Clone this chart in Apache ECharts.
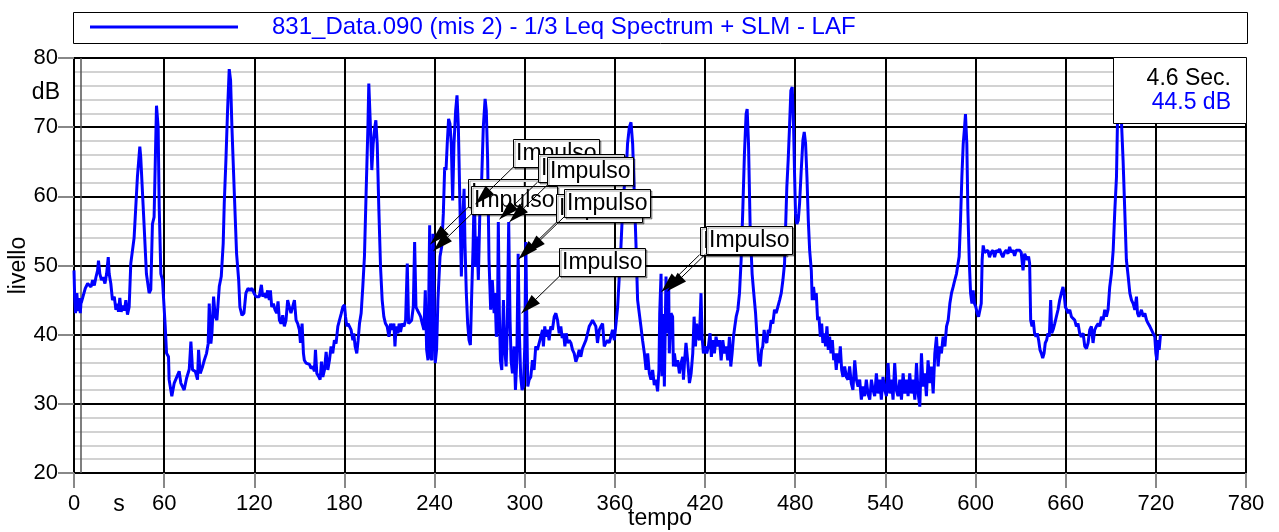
<!DOCTYPE html>
<html>
<head>
<meta charset="utf-8">
<script src="https://cdn.jsdelivr.net/npm/echarts@6.0.0/dist/echarts.min.js"></script>
<style>
html,body{margin:0;padding:0;background:#fff;}
#c{width:1279px;height:532px;}
</style>
</head>
<body>
<div id="c"></div>
<script>
// ---- data: [tempo (s), livello (dB)] ----
const seg1 = [[0,49.3],[0.5,45],[1,43.1],[1.9,46],[2.7,43.4],[3.6,45.3],[4.2,43.1],[4.6,44.5],[5.1,44.8],[6.2,45],[7.5,46.7],[8.3,46.5],[9.1,47.4],[10.2,47.6],[11.3,46.9],[12.4,47.9],[13.5,47.1],[14.6,48.3],[15.7,49.3],[16.3,50.7],[17.2,48.8],[18.3,47.9],[19.4,48.3],[20.6,47.4],[21.7,48.8],[22.8,51.2],[23.4,48.8],[24.5,47.4],[25.6,45],[26.8,45.5],[27.9,43.6],[29,44.5],[29.6,43.3],[30.5,45.3],[31.4,43.3],[32.3,44.2],[33.6,43.5],[34.5,45],[35.6,42.9],[36.7,44],[37.8,50.3],[40,54],[42.2,62.8],[43.8,67.2],[44.4,65.7],[46.7,55.6],[48.2,48.8],[50,46],[51.1,46.5],[52.2,56],[53.3,57],[54.9,73.1],[56,70],[56.7,58.5],[57.8,48.8],[58.9,47.9]];
const seg2 = [[60.7,41.2],[61.6,37.3],[62.9,36.8],[63.3,33.5],[65.1,31.1],[66.7,33],[67.8,33.2],[70,34.7],[71.1,33],[72.2,32.8],[73.3,32],[74.9,33.7],[76.7,35],[77.8,39],[78.9,34.9],[80.7,34.7],[82.2,33.5],[82.9,37.8],[84,34.4],[85.6,35.4],[86.7,36.3],[88.2,37.3],[89.3,38.7],[90,44.5],[91.1,38.7],[91.8,40.2],[92.9,45.5],[94,42.6],[95.1,42.1],[96.7,47],[98,48.4],[99.3,53.2],[100,59],[101.1,65.2],[102.2,72.4],[103.3,78.4],[104.2,76.8],[105.1,70],[106.7,60.4],[108.2,51.7],[109.6,47.9],[110.4,44],[111.8,42.8],[113.1,43.1],[114.4,46],[115.8,46.7],[117.1,46.4],[118.4,46.7],[119.8,46],[121.1,45.5],[122.2,45.7],[123.3,45.5],[124.7,47.2],[125.6,45.5],[126.7,46],[127.8,45.3],[128.9,46.4],[130,45],[130.7,46.4],[131.6,44],[132.7,44.5],[133.8,43.6],[134.9,43.1],[135.8,44.8],[136.7,42.1],[137.8,41.6],[138.9,42.8],[140,41.2],[141.1,42.1],[142.2,45],[143.3,44],[144.4,43.1],[145.6,43.1],[146.7,45],[147.8,42.1],[148.9,41.6],[150,40.7],[150.7,38.8],[151.8,41.6],[152.7,37.3],[153.3,36.3],[154.4,35.9],[155.6,36.1],[156.7,35.7],[157.8,35.1],[158.9,35.4],[160,34.7],[160.7,37.8],[161.6,34.4],[163,33.9],[163.8,33.5],[164.7,36.1],[165.6,33.9],[166.7,34.9],[167.8,37.5],[168.9,34.9],[170,36.3],[171.1,38.3],[172.2,37.3],[173.3,39.2],[174.4,38.7],[175.6,41.2],[176.7,42.1],[177.8,43],[178.9,44],[180,44.3],[180.7,42.6],[181.6,41.2],[182.4,41.6],[183.3,41.2],[184.4,40.7],[185.6,39.2],[186.2,40.2],[187.1,38.3],[188.2,37.3],[189.1,39.2],[190,41.6],[191.1,43.1],[192.2,46.9],[193.3,51.3],[194.4,60.4],[195.6,70],[196.2,76.3]];
const seg3 = [[197.3,70],[198.2,63.8],[199.1,67.6],[200.2,70],[200.9,71],[201.8,67.6],[202.9,58],[204,49.8],[205.1,45],[206.2,42.6],[207.3,41.6],[208.4,41.2],[209.6,39.7],[210.7,41.6],[211.8,40.7],[212.9,41.6],[213.6,38.3],[214.4,41.2],[215.6,40.2],[216.4,41.6],[217.3,40.4],[218.4,41.6],[219.6,41.2],[220.7,42.1],[221.8,50.3],[222.7,41.6],[223.6,41.4],[224.7,42.1],[225.8,44],[226.7,53.4],[227.6,44],[228.4,43.6],[229.6,43.1],[230.7,42.6],[231.8,41.6],[232.9,40.7],[233.8,46.4],[234.7,37.8],[235.6,36.3],[236.7,55.8],[237.3,36.8],[238.2,36.3],[238.9,54.6],[239.6,45.9],[240.4,35.9],[241.3,37.8],[242.2,45],[243.6,51.3],[244.7,52.7],[245.8,57.5],[246.7,64.2],[247.6,63.8],[248.4,67.6],[249.3,71.2],[250.2,70.5],[251.1,67.6],[252,59.4],[252.9,67.6],[254,72.4],[254.9,74.6],[255.8,70],[256.7,60.4],[257.8,48.4],[258.7,56.5],[259.6,61.1],[260.2,53.2],[261.1,46],[262,41.6],[262.9,39.2],[263.8,38.5],[264.7,46],[265.6,52.7],[266.4,61.3],[267.3,49.8],[268.2,54.2],[269.1,47.9],[270.2,58.7],[271.3,62.3],[272.4,70],[273.6,74.1],[274.4,72.4],[275.3,65.2],[276.2,50.8],[277.3,43.6],[278.4,47.9],[279.6,43.1],[280.2,46],[281.1,39.7],[281.8,41.2],[282.4,56.3],[283.1,43.1],[283.8,36.3],[284.7,34.9],[285.8,45],[286.7,37.8],[287.6,35.4],[288.4,41.6],[289.3,56.3],[290.2,42.1],[290.9,36.3],[291.8,34.4],[292.9,38.3],[293.8,32],[294.7,36.3],[295.6,51.7],[296.4,40.2],[297.3,33.9],[298.2,32],[299.1,32.5],[300,38.3],[300.7,53.4],[301.3,43.1],[302,32.5],[302.9,33.5],[304,33.9],[305.1,36.3],[306.2,34.9],[307.3,38.3],[308.4,37.8],[309.6,38.8],[310.7,39.7],[311.8,40.7],[312.4,38.3],[313.3,41.2],[314.2,39.7],[315.1,40.7],[316.2,39.2],[317.3,41.2],[318.4,40.7],[319.6,42.6],[320.7,43.1],[321.8,42.1],[322.9,40.2],[324,41.2],[324.9,39.5],[325.8,40.2],[326.7,38.3],[327.6,40.2],[328.4,38.8],[329.6,39.2],[330.7,38.8],[331.8,37.8],[332.9,37.3],[334,36.1],[335.1,36.8],[336.2,37.8],[337.3,36.8],[338.4,38],[339.6,37.8],[340.7,39.2],[341.8,40.2],[342.9,41.2],[344,41.6],[345.1,42.1],[346.2,42.3],[347.3,41.2],[348.4,38.8],[349.6,40.7],[350.7,41.2],[351.8,41.6],[352.9,38.3],[354,38.8],[355.1,39.2],[356.2,38.8],[357.3,39.7],[358.4,40.7],[359.6,39.2],[360.7,41.6],[361.8,44],[362.9,48.4],[364,52.7],[365.1,58],[366.2,61.3],[367.3,62.7],[368.4,67.6],[369.6,70],[370.7,70.7],[371.8,67.6],[372.9,60.4],[374,53.2],[375.1,45],[376.2,43.1],[377.3,41.2],[378.4,39.2],[379.6,37.3],[380.7,34.9],[381.8,37.3],[382.9,34.4],[384,33.5],[385.1,34.9],[386.2,32.7],[387.3,33.5],[388.4,31.8]];
const seg4 = [[389.3,34.9],[389.8,43],[390.7,48.8],[391.3,34],[392.2,43],[392.9,32.5],[394,48.4],[394.9,40.2],[395.8,46.9],[396.2,37.3],[397.3,43.1],[398.4,42.6],[398.9,35.4],[399.6,37.3],[400.7,35.4],[401.8,36.3],[402.9,34.4],[404,35.9],[405.1,36.8],[405.6,33.5],[406.4,36.3],[407.3,38.8],[408.4,36.3],[409.6,33],[410.7,34.4],[411.8,37.3],[412.7,42.6],[413.6,38.3],[414.4,41.6],[415.3,39.7],[416.2,39.2],[417.3,46],[418,39.7],[418.9,37.3],[420,38.3],[421.1,37.3],[422.2,38.3],[423.3,40.2],[424.2,36.8],[425.1,39.2],[426.2,37.3],[427.3,39.7],[428.4,38.3],[429.6,39.2],[430.7,36.3],[431.8,39.2],[432.9,37.3],[434,38.3],[435.1,36.3],[436.2,39.7],[437.1,35.4],[438,37.3],[438.9,39.7],[439.8,41.2],[440.7,42.6],[441.8,43.6],[442.9,46],[444,50.8],[445.1,58],[446.2,66.2],[447.3,71.9],[448,72.6],[448.9,67.6],[450,55.6],[451.3,48.8],[452.4,46],[453.6,43.1],[454.7,39.2],[455.6,36.3],[456.7,35.4],[457.6,37.8],[458.4,38.3],[459.3,40.7],[460.2,39.2],[461.1,38.8],[462,40.7],[462.9,40.2],[464,42.1],[465.1,41.6],[466.2,43.6],[467.3,43.1],[468.4,44],[469.6,45],[470.7,46],[471.8,47.9],[472.9,50.3],[473.6,55.6],[474.4,61.3],[475.3,65.2],[476.2,70],[477.1,75.3],[478,75.8],[478.9,70],[479.6,62.8],[480.2,57.5],[481.1,56],[482,56.5],[482.9,59],[484,63.8],[485.1,68.1],[486,69.3],[486.9,67.6],[487.8,62.8],[488.7,56.5],[489.6,52.2],[490.7,49.3],[491.3,45],[492.2,46.9],[493.1,45],[494,46],[494.9,42.1],[495.8,42.6],[496.7,39.7],[497.6,41.6],[498.4,38.8],[499.3,40.2],[500.2,38.3],[501.1,41.2],[502,37.8],[502.9,39.7],[503.8,37.3],[504.7,39.2],[505.6,36.3],[506.4,37.3],[507.3,34.9],[508.2,37.3],[509.1,35.9],[510,38.3],[510.9,34.9],[511.8,33.9],[512.9,35.4],[514,33.9],[515.1,33.5],[516.2,35.4],[517.3,33],[518.4,32],[519.6,36.3],[520.7,33.5],[521.8,32.5],[522.9,33.5],[524,30.6],[525.1,32.5],[526.2,31.1],[527.3,33.5],[528.4,31.5],[529.6,30.6],[530.7,33.5],[531.8,32],[532.9,31.1],[534,34.4],[535.1,31.5],[536.2,33.5],[537.3,30.6],[538.4,33.9],[539.6,32],[540.7,31.1],[541.8,35.9],[542.9,31.5],[544,33.5],[545.1,30.6],[546.2,35.9],[547.3,32],[548.4,31.1],[549.6,33.5],[550.7,30.6],[551.8,34.4],[552.9,31.5],[554,33.5],[555.1,31.1],[556.2,34.4],[557.3,31.5],[558.4,33.5],[559.6,30.6],[560.7,35.9],[561.8,31.5],[562.9,29.6],[564,37.3],[565.1,32.5],[566.2,34.4],[567.3,31.1],[568.4,36.3],[569.6,33],[570.7,35.4],[571.8,31.5],[572.9,37.3],[574,39.7],[575.1,35.4],[576.2,38.3],[577.3,37.3],[578.4,39.7],[579.6,38.3],[580.7,41.2],[581.8,42.1],[582.9,44.5],[584,46],[585.1,46.9],[586.2,47.9],[587.3,48.8],[588.2,48.8],[589.1,51.3]];
const seg5 = [[590,56.5],[590.9,62.8],[591.8,67.6],[592.7,70],[593.3,71.9],[594.2,67.6],[594.9,58],[595.8,50.8],[596.7,46],[597.6,44.5],[598.4,46.4],[599.3,44.5],[600.2,44],[601.1,43.1],[602,42.6],[602.9,42.6],[603.8,44.5],[604.4,50.8],[605.1,52.9],[606,51.9],[607.1,51.7],[608.2,52.2],[609.3,51.2],[610.4,51.9],[611.6,52.2],[612.7,51.2],[613.8,52.2],[614.9,51.9],[616,52.4],[617.1,51.7],[618.2,51.2],[619.3,51.9],[620.4,52.2],[621.6,51.7],[622.7,52.7],[623.8,51.9],[624.9,52.2],[626,51.4],[627.1,52.2],[628.2,52.4],[629.3,52.2],[630.4,51.9],[631.6,49.3],[632.7,51.7],[633.6,51.9],[634.4,50.8],[635.3,51.3],[636,50.3],[636.7,42.1],[637.6,41.2],[638.4,42.1],[639.3,40.2],[640.2,39.7],[641.1,40.2],[642,39.2],[642.9,37.8],[643.8,37.3],[644.7,36.6],[645.6,37.3],[646.4,38.8],[647.3,39.2],[648.2,40.2],[649.1,39.7],[650,45],[650.7,40.2],[651.6,40.7],[652.7,41.6],[653.8,42.6],[654.9,43.6],[656,45],[657.1,46],[658.2,46.9],[658.9,46],[659.8,44],[660.7,43.6],[661.6,43.1],[662.7,43.6],[663.8,42.6],[664.9,42.8],[666,42.1],[667.1,41.2],[668.2,41.6],[669.3,40.2],[670.4,39.7],[671.6,40.2],[672.7,38.3],[673.8,38],[674.9,38.8],[676,40.7],[677.1,41.2],[678.2,38.8],[679.3,40.7],[680.4,41.2],[681.6,41.6],[682.7,41.2],[683.8,42.6],[684.9,42.1],[686,43.6],[687.1,42.6],[688.2,43.6],[689.3,46.9],[690.4,48.8],[691.6,52.2],[692.7,58],[693.8,62.8],[694.4,70],[695.3,77],[696.2,76.5],[697.1,70.9],[698.2,65.2],[699.3,58],[700.4,50.8],[701.6,48.4],[702.7,46],[703.8,45],[704.9,44.5],[706,43.6],[707.1,45.5],[707.8,43.1],[708.7,42.6],[709.6,43.1],[710.4,43.6],[711.6,42.6],[712.7,43.1],[713.8,42.1],[714.9,41.6],[716,41.2],[717.1,40.7],[718.2,40.2],[719.3,39.7],[720,37.3],[720.7,36.3],[721.6,39.2],[722.2,37.8],[723.1,40]];

// impulse annotations: arrow tip positions [tempo, livello]
const impulsoT  = [237.2, 239.2, 267.2, 283.2, 289.8, 295.8, 301.0, 297.8, 391.0, 395.0];
const impulsoDB = [53.1, 52.1, 58.9, 56.7, 56.3, 50.9, 51.7, 43.1, 46.2, 46.3];
const impulsoLabel = 'Impulso';

// cursor readout
const cursorT = 4.6;
const cursorDB = 44.5;

// axis ticks
const xMin = 0, xMax = 780, xStep = 60;
const yMin = 20, yMax = 80, yStep = 10;

const seriesName = '831_Data.090 (mis 2) - 1/3 Leq Spectrum + SLM - LAF';
const FONT = '"Liberation Sans", Arial, Helvetica, sans-serif';
const BLUE = '#0000ff';

const data = seg1.concat(seg2, seg3, seg4, seg5);

const chart = echarts.init(document.getElementById('c'), null, {renderer: 'canvas'});

const option = {
  animation: false,
  backgroundColor: '#fff',
  grid: {left: 74, right: 33, top: 58, bottom: 59, show: false, containLabel: false, outerBoundsMode: 'none'},
  legend: {
    show: true,
    left: 90, top: 15, padding: 0,
    icon: 'rect', itemWidth: 148, itemHeight: 3,
    textStyle: {fontSize: 24, color: BLUE, fontFamily: FONT, padding: [0, 0, 0, 29]},
    data: [seriesName],
    selectedMode: false
  },
  xAxis: {
    type: 'value', min: xMin, max: xMax, interval: xStep,
    name: 'tempo', nameLocation: 'middle', nameGap: 34, nameMoveOverlap: false,
    nameTextStyle: {fontSize: 23, color: '#000', fontFamily: FONT},
    axisLine: {show: true, onZero: false, lineStyle: {color: '#000', width: 2}},
    axisTick: {show: true, length: 15, lineStyle: {color: '#888', width: 2}},
    axisLabel: {fontSize: 22, color: '#000', margin: 20, fontFamily: FONT},
    splitLine: {show: true, lineStyle: {color: '#000', width: 2}}
  },
  yAxis: {
    type: 'value', min: yMin, max: yMax, interval: yStep,
    name: 'livello', nameLocation: 'middle', nameRotate: 90, nameGap: 44, nameMoveOverlap: false,
    nameTextStyle: {fontSize: 23, color: '#000', fontFamily: FONT},
    axisLine: {show: true, lineStyle: {color: '#000', width: 2}},
    axisTick: {show: true, length: 16, lineStyle: {color: '#888', width: 2}},
    axisLabel: {fontSize: 22, color: '#000', margin: 16, fontFamily: FONT},
    splitLine: {show: true, lineStyle: {color: '#000', width: 2}},
    minorTick: {show: false, splitNumber: 5},
    minorSplitLine: {show: true, lineStyle: {color: '#d2d2d2', width: 2}}
  },
  series: [{
    type: 'line', name: seriesName, data: data,
    showSymbol: false, symbol: 'none',
    lineStyle: {color: BLUE, width: 3},
    itemStyle: {color: BLUE},
    z: 3,
    markLine: {
      silent: true, symbol: 'none', label: {show: false},
      lineStyle: {color: '#555', width: 1.5, type: 'solid'},
      data: [{xAxis: cursorT}],
      z: 2
    }
  }]
};
chart.setOption(option);

function buildGraphics() {
  const els = [];
  // legend frame
  els.push({type: 'rect', z: 1, shape: {x: 73.5, y: 12.5, width: 1174, height: 31},
    style: {fill: 'none', stroke: '#000', lineWidth: 1}});
  // unit labels
  const p30 = chart.convertToPixel({gridIndex: 0}, [30, yMin]);
  els.push({type: 'text', z: 5, x: p30[0], y: p30[1] + 20,
    style: {text: 's', fontSize: 23, fontFamily: FONT, fill: '#000', align: 'center', verticalAlign: 'top'}});
  const p75 = chart.convertToPixel({gridIndex: 0}, [xMin, 75]);
  els.push({type: 'text', z: 5, x: p75[0] - 14, y: p75[1],
    style: {text: 'dB', fontSize: 23, fontFamily: FONT, fill: '#000', align: 'right', verticalAlign: 'middle'}});
  // impulse annotations
  const BW = 86, BH = 28, DX = 38, DY = -37, HL = 20, HW = 6;
  for (let i = 0; i < impulsoT.length; i++) {
    const tip = chart.convertToPixel({gridIndex: 0}, [impulsoT[i], impulsoDB[i]]);
    const bx = tip[0] + DX, by = tip[1] + DY;
    const vx = tip[0] - bx, vy = tip[1] - by;
    const len = Math.hypot(vx, vy), ux = vx / len, uy = vy / len;
    const cx = tip[0] - ux * HL, cy = tip[1] - uy * HL;
    const nx = -uy, ny = ux;
    const z2 = i * 10;
    els.push({type: 'line', z: 20, z2: z2, shape: {x1: bx, y1: by, x2: tip[0], y2: tip[1]},
      style: {stroke: '#000', lineWidth: 1}});
    els.push({type: 'polygon', z: 20, z2: z2 + 1,
      shape: {points: [[tip[0], tip[1]], [cx + nx * HW, cy + ny * HW], [cx - nx * HW, cy - ny * HW]]},
      style: {fill: '#000'}});
    els.push({type: 'rect', z: 20, z2: z2 + 2, shape: {x: Math.round(bx) + 0.5, y: Math.round(by - BH) + 0.5, width: BW, height: BH},
      style: {fill: '#fff', stroke: '#000', lineWidth: 1, shadowColor: 'rgba(0,0,0,0.35)', shadowOffsetX: 1.5, shadowOffsetY: 1.5, shadowBlur: 0}});
    els.push({type: 'text', z: 20, z2: z2 + 3, x: Math.round(bx) + 3, y: Math.round(by - BH / 2) + 1,
      style: {text: impulsoLabel, fontSize: 23, fontFamily: FONT, fill: '#000', align: 'left', verticalAlign: 'middle'}});
  }
  // cursor readout box
  els.push({type: 'rect', z: 40, shape: {x: 1113.5, y: 57.5, width: 133, height: 66},
    style: {fill: '#fff', stroke: '#000', lineWidth: 1}});
  els.push({type: 'text', z: 41, x: 1231, y: 79,
    style: {text: cursorT.toFixed(1) + ' Sec.', fontSize: 23, fontFamily: FONT, fill: '#000', align: 'right', verticalAlign: 'middle'}});
  els.push({type: 'text', z: 41, x: 1231, y: 103,
    style: {text: cursorDB.toFixed(1) + ' dB', fontSize: 23, fontFamily: FONT, fill: BLUE, align: 'right', verticalAlign: 'middle'}});
  return els;
}
chart.setOption({graphic: {elements: buildGraphics()}});
</script>
</body>
</html>
